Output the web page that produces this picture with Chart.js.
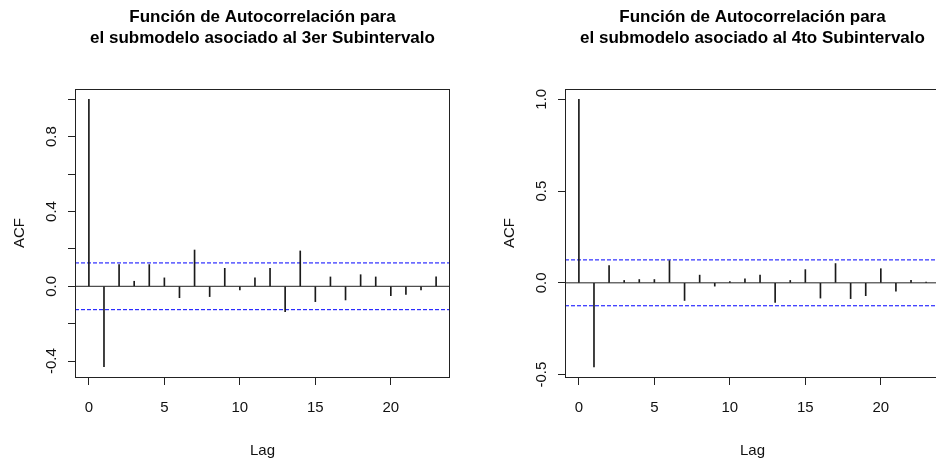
<!DOCTYPE html>
<html>
<head>
<meta charset="utf-8">
<script src="https://cdn.jsdelivr.net/npm/chart.js@4/dist/chart.umd.min.js"></script>
<style>
  html, body { margin: 0; padding: 0; background: #fff; overflow: hidden; }
  #wrap { position: relative; width: 936px; height: 464px; overflow: hidden; }
  canvas { position: absolute; top: 0; }
  #acf3 { left: 0; }
  #acf4 { left: 490px; }
</style>
</head>
<body>
<div id="wrap">
  <canvas id="acf3" width="525" height="464"></canvas>
  <canvas id="acf4" width="525" height="464"></canvas>
</div>
<script>
// lags 0..23
const lags = [0, 1, 2, 3, 4, 5, 6, 7, 8, 9, 10, 11, 12, 13, 14, 15, 16, 17, 18, 19, 20, 21, 22, 23];

// ACF, 3er subintervalo
const acf3 = [1.0, -0.43, 0.116, 0.027, 0.116, 0.045, -0.061, 0.194, -0.055, 0.096, -0.02, 0.045,
              0.096, -0.135, 0.189, -0.082, 0.05, -0.073, 0.062, 0.05, -0.05, -0.043, -0.02, 0.05];
// ACF, 4to subintervalo
const acf4 = [1.0, -0.458, 0.094, 0.013, 0.018, 0.018, 0.121, -0.096, 0.042, -0.018, 0.007, 0.022,
              0.042, -0.107, 0.013, 0.072, -0.083, 0.105, -0.086, -0.07, 0.077, -0.046, 0.013, 0.004];

// confidence bounds (blue dashed)
const ci3 = 0.125;
const ci4 = 0.125;

// axis ticks
const xTicks = [0, 5, 10, 15, 20];
const yTicks3 = [-0.4, -0.2, 0.0, 0.2, 0.4, 0.6, 0.8, 1.0];
const yLabels3 = [-0.4, 0.0, 0.4, 0.8];
const yTicks4 = [-0.5, 0.0, 0.5, 1.0];
const yLabels4 = [-0.5, 0.0, 0.5, 1.0];

const xMin = -0.92, xMax = 23.92;

const titles3 = ['Función de Autocorrelación para', 'el submodelo asociado al 3er Subintervalo'];
const titles4 = ['Función de Autocorrelación para', 'el submodelo asociado al 4to Subintervalo'];

const narrow = "'Liberation Sans Narrow', 'Arial Narrow', 'Liberation Sans', sans-serif";
const regular = "'Liberation Sans', Arial, sans-serif";

// box round the plot region, like R's box()
const boxPlugin = {
    id: 'box',
    afterDatasetsDraw(chart) {
        const a = chart.chartArea;
        const ctx = chart.ctx;
        ctx.save();
        ctx.strokeStyle = '#222';
        ctx.lineWidth = 1;
        ctx.strokeRect(a.left + 0.5, a.top + 0.5, a.right - a.left - 1, a.bottom - a.top);
        ctx.restore();
    }
};

function makeAcf(id, values, ci, yMin, yMax, yTicks, yLabels, title) {
    const ctx = document.getElementById(id).getContext('2d');
    return new Chart(ctx, {
        type: 'bar',
        data: {
            datasets: [{
                type: 'bar',
                data: lags.map((l, i) => ({ x: l, y: values[i] })),
                backgroundColor: '#1a1a1a',
                borderWidth: 0,
                barThickness: 1,
                order: 1
            }, {
                type: 'line',
                data: [{ x: xMin, y: 0 }, { x: xMax, y: 0 }],
                borderColor: '#222',
                borderWidth: 1,
                pointRadius: 0,
                order: 2
            }, {
                type: 'line',
                data: [{ x: xMin, y: ci }, { x: xMax, y: ci }],
                borderColor: '#0000ff',
                borderWidth: 1,
                borderDash: [4, 2],
                pointRadius: 0,
                order: 3
            }, {
                type: 'line',
                data: [{ x: xMin, y: -ci }, { x: xMax, y: -ci }],
                borderColor: '#0000ff',
                borderWidth: 1,
                borderDash: [4, 2],
                pointRadius: 0,
                order: 3
            }]
        },
        options: {
            responsive: false,
            animation: false,
            layout: { padding: { left: 0, right: 75, top: 0, bottom: 0 } },
            plugins: {
                legend: { display: false },
                tooltip: { enabled: false },
                title: {
                    display: true,
                    text: title,
                    fullSize: false,
                    color: '#000',
                    font: { family: narrow, size: 17, weight: 'bold', lineHeight: '21px' },
                    padding: { top: 7, bottom: 40 }
                }
            },
            scales: {
                x: {
                    type: 'linear',
                    min: xMin,
                    max: xMax,
                    offset: false,
                    afterBuildTicks: axis => { axis.ticks = xTicks.map(v => ({ value: v })); },
                    afterFit: axis => { axis.height = 87; },
                    grid: { offset: false, drawOnChartArea: false, drawTicks: true, tickLength: 8, color: '#222' },
                    border: { display: false },
                    ticks: {
                        color: '#111',
                        padding: 14,
                        maxRotation: 0,
                        font: { family: narrow, size: 15 },
                        callback: v => String(v)
                    },
                    title: {
                        display: true,
                        text: 'Lag',
                        color: '#111',
                        font: { family: narrow, size: 15 },
                        padding: { top: 0, bottom: 4 }
                    }
                },
                y: {
                    type: 'linear',
                    min: yMin,
                    max: yMax,
                    afterBuildTicks: axis => { axis.ticks = yTicks.map(v => ({ value: v })); },
                    afterFit: axis => { axis.width = 75; },
                    grid: { drawOnChartArea: false, drawTicks: true, tickLength: 7, color: '#222' },
                    border: { display: false },
                    ticks: {
                        color: '#111',
                        padding: 3,
                        minRotation: 90,
                        maxRotation: 90,
                        crossAlign: 'center',
                        font: { family: regular, size: 15 },
                        callback: v => yLabels.some(l => Math.abs(l - v) < 1e-9) ? v.toFixed(1) : ''
                    },
                    title: {
                        display: true,
                        text: 'ACF',
                        color: '#111',
                        font: { family: regular, size: 15 },
                        padding: { top: 11, bottom: 0 }
                    }
                }
            }
        },
        plugins: [boxPlugin]
    });
}

document.addEventListener("DOMContentLoaded", function () {
    makeAcf('acf3', acf3, ci3, -0.485, 1.055, yTicks3, yLabels3, titles3);
    makeAcf('acf4', acf4, ci4, -0.513, 1.056, yTicks4, yLabels4, titles4);
});
</script>
</body>
</html>
